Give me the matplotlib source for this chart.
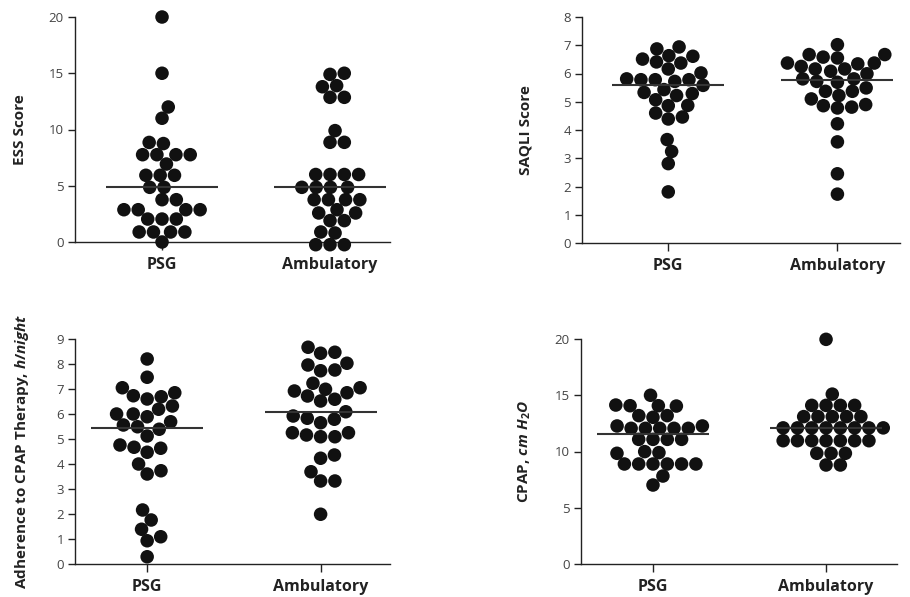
import numpy as np
import matplotlib
matplotlib.use("Agg")
import matplotlib.pyplot as plt

plt.rcParams['font.family'] = ['Open Sans', 'DejaVu Sans']
plt.rcParams['mathtext.fontset'] = 'custom'
plt.rcParams['mathtext.rm'] = 'Open Sans:bold'
plt.rcParams['mathtext.it'] = 'Open Sans:italic:bold'

# ---------------- data ----------------
categories = ["PSG", "Ambulatory"]

ess_psg = [20, 15, 12, 11, 8.75, 8.85, 7.76, 7.76, 7.76, 7.76, 6.93, 5.93, 5.93, 5.93,
           4.86, 4.86, 3.76, 3.76, 2.87, 2.87, 2.87, 2.87, 2.04, 2.04, 2.04,
           0.89, 0.89, 0.89, 0.89, 0.0]
ess_amb = [14.9, 15.0, 13.9, 13.8, 12.86, 12.86, 9.9, 8.86, 8.86, 6.0, 6.0, 6.0, 6.0,
           4.86, 4.86, 4.86, 4.86, 3.76, 3.76, 3.76, 3.76, 2.87, 2.58, 2.58,
           1.9, 1.9, 0.8, 0.89, -0.24, -0.24, -0.24]

saqli_psg = [6.87, 6.94, 6.61, 6.37, 6.51, 6.63, 6.41, 6.02, 6.16, 5.78, 5.78, 5.58,
             5.78, 5.81, 5.72, 5.29, 5.33, 5.43, 5.22, 4.87, 4.86, 5.07, 4.6, 4.46,
             4.39, 3.66, 3.24, 2.81, 1.81]
saqli_amb = [7.02, 6.67, 6.55, 6.58, 6.67, 6.25, 6.16, 6.08, 6.37, 6.37, 6.16, 6.34,
             5.81, 5.72, 5.81, 5.99, 5.69, 5.37, 5.37, 5.49, 5.1, 5.22, 4.86, 4.78,
             4.81, 4.9, 4.22, 3.58, 2.45, 1.73]

adh_psg = [8.2, 7.47, 6.85, 6.69, 6.6, 6.73, 7.05, 6.32, 6.0, 5.89, 6.0, 6.19, 5.49,
           5.39, 5.56, 5.69, 5.12, 4.67, 4.47, 4.63, 4.76, 3.73, 3.6, 4.0, 2.16,
           1.76, 1.39, 1.09, 0.93, 0.29]
adh_amb = [8.67, 8.43, 8.47, 8.03, 7.76, 7.73, 7.96, 7.23, 7.05, 6.99, 6.85, 6.72,
           6.52, 6.59, 6.92, 5.92, 5.79, 5.83, 6.09, 5.65, 5.25, 5.09, 5.09, 5.16,
           5.25, 4.23, 4.36, 3.69, 3.32, 3.32, 1.99]

cpap_psg = [15.0, 14.07, 14.04, 14.13, 14.07, 13.04, 13.19, 13.19, 12.27, 12.06, 12.06,
            12.06, 12.06, 12.06, 12.27, 11.08, 11.08, 11.08, 11.08, 9.9, 9.99, 9.84,
            8.89, 8.89, 8.89, 8.89, 8.89, 8.89, 7.82, 7.02]
cpap_amb = [19.97, 15.1, 14.1, 14.1, 14.1, 14.1, 13.1, 13.1, 13.1, 13.1, 13.1,
            12.1, 12.1, 12.1, 12.1, 12.1, 12.1, 12.1, 12.1,
            10.96, 10.96, 10.96, 10.96, 10.96, 10.96, 10.96,
            9.84, 9.84, 9.84, 8.8, 8.8]

ess_ticks = [0, 5, 10, 15, 20]
saqli_ticks = [0, 1, 2, 3, 4, 5, 6, 7, 8]
adh_ticks = [0, 1, 2, 3, 4, 5, 6, 7, 8, 9]
cpap_ticks = [0, 5, 10, 15, 20]

ylabels = ["ESS Score", "SAQLI Score",
           r"Adherence to CPAP Therapy, $\mathit{h/night}$",
           r"CPAP, $\mathit{cm\ H_2O}$"]

# ---------------- layout ----------------
W, H = 910, 597
fig = plt.figure(figsize=(W / 100, H / 100), dpi=100)

DOT = '#111111'
AXC = '#222222'
TICKC = '#444444'
DX_PX = 14.3   # horizontal spacing of dots sharing a value
DY_PX = 12.5   # vertical reach of the overlap check
LINE_HALF_PX = 56


def px_axes(left, top, right, bottom):
    return fig.add_axes([left / W, 1 - bottom / H, (right - left) / W, (bottom - top) / H])


def swarm_offsets(ax, vals):
    """Beeswarm: each point goes to the position nearest the centre that does not collide."""
    vals = np.asarray(vals, float)
    ppu_y = abs(ax.transData.transform((0, 1))[1] - ax.transData.transform((0, 0))[1])
    ppu_x = abs(ax.transData.transform((1, 0))[0] - ax.transData.transform((0, 0))[0])
    order = np.argsort(vals, kind='stable')
    px, py = [], []
    offs = np.zeros(len(vals))

    def ok(c, y):
        return all(((c - xx) / DX_PX) ** 2 + ((y - yy) / DY_PX) ** 2 >= 1 - 1e-6
                   for xx, yy in zip(px, py))

    for i in order:
        y = vals[i] * ppu_y
        cands = [0.0]
        for xx, yy in zip(px, py):
            dy = abs(y - yy)
            if dy < DY_PX:
                dx = DX_PX * np.sqrt(1 - (dy / DY_PX) ** 2)
                cands += [xx + dx + 1e-6, xx - dx - 1e-6]
        cands = sorted(cands, key=lambda c: (round(abs(c), 4), -c))
        for c in cands:
            if ok(c, y):
                px.append(c)
                py.append(y)
                offs[i] = c / ppu_x
                break
    return offs


def panel(rect, xlim, ylim, ticks, groups, ylabel, label_x):
    ax = px_axes(*rect)
    ax.set_xlim(*xlim)
    ax.set_ylim(*ylim)
    for s in ['top', 'right']:
        ax.spines[s].set_visible(False)
    for s in ['left', 'bottom']:
        ax.spines[s].set_color(AXC)
        ax.spines[s].set_linewidth(1.0)
    ax.set_yticks(ticks)
    ax.set_yticklabels([str(t) for t in ticks])
    ax.set_xticks([1, 2])
    ax.set_xticklabels(categories, fontsize=11.5, fontweight='bold', color='#222222')
    ax.tick_params(axis='y', direction='out', length=5, width=1, color=AXC,
                   labelsize=9.5, labelcolor=TICKC, pad=3)
    ax.tick_params(axis='x', direction='out', length=6, width=1, color=AXC, pad=5)
    ppu_x = abs(ax.transData.transform((1, 0))[0] - ax.transData.transform((0, 0))[0])
    for xi, vals in zip([1, 2], groups):
        offs = swarm_offsets(ax, vals)
        ax.scatter(xi + offs, vals, s=95, color=DOT, edgecolors='none', zorder=3, clip_on=False)
        med = np.median(vals)
        hw = LINE_HALF_PX / ppu_x
        ax.plot([xi - hw, xi + hw], [med, med], color='#333333', lw=1.5, zorder=4,
                solid_capstyle='butt')
    cy = (rect[1] + rect[3]) / 2
    fig.text(label_x / W, 1 - cy / H, ylabel, rotation=90, ha='center', va='center',
             fontsize=11, fontweight='bold', color='#222222')
    return ax


panel((75, 17, 390, 242), (0.482, 2.357), (0, 20), ess_ticks, [ess_psg, ess_amb], ylabels[0], 20)
panel((582, 17, 900, 243), (0.49, 2.37), (0, 8), saqli_ticks, [saqli_psg, saqli_amb], ylabels[1], 525)
panel((75, 339, 390, 564), (0.584, 2.40), (0, 9), adh_ticks, [adh_psg, adh_amb], ylabels[2], 22)
panel((581, 339, 897, 564), (0.584, 2.41), (0, 20), cpap_ticks, [cpap_psg, cpap_amb], ylabels[3], 525)

fig.savefig("out.png", dpi=100)
